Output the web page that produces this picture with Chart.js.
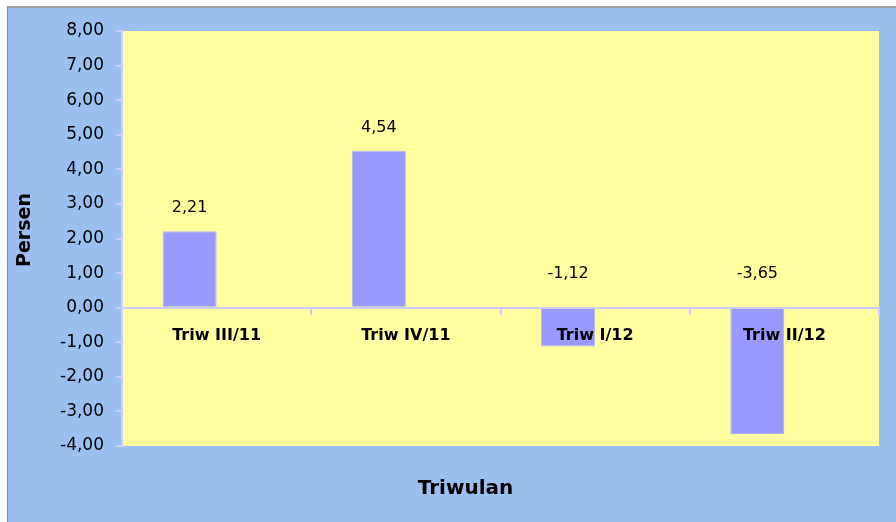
<!DOCTYPE html>
<html>
<head>
<meta charset="utf-8">
<script src="https://cdn.jsdelivr.net/npm/chart.js@4"></script>
<style>
  html, body { margin: 0; padding: 0; background: #fff; overflow: hidden; }
  #wrap {
    position: absolute; left: 7px; top: 6px;
    border-left: 1px solid #8c8c8c; border-top: 2px solid #a0a0a0;
    background: #9bc0f0; width: 900px; height: 530px;
  }
  #chart { position: absolute; left: 0; top: 0; }
</style>
</head>
<body>
<div id="wrap"><canvas id="chart" width="888" height="514"></canvas></div>
<script>
// --- DATA ---
const categories = ['Triw III/11', 'Triw IV/11', 'Triw I/12', 'Triw II/12'];
const values = [2.21, 4.54, -1.12, -3.65];
const yTicks = [-4, -3, -2, -1, 0, 1, 2, 3, 4, 5, 6, 7, 8];
const yTitle = 'Persen';
const xTitle = 'Triwulan';

const fmt = v => v.toFixed(2).replace('.', ',');
Chart.defaults.font.family = "'DejaVu Sans'";
Chart.defaults.color = '#000';

// latar plot kuning + judul sumbu + label nilai
const decor = {
    id: 'decor',
    beforeDraw(chart) {
        const { ctx, chartArea: a } = chart;
        ctx.save();
        ctx.fillStyle = '#9bc0f0';
        ctx.fillRect(0, 0, chart.width, chart.height);
        ctx.fillStyle = '#ffffa0';
        ctx.fillRect(a.left, a.top, a.right - a.left, a.bottom - a.top);
        ctx.restore();
    },
    afterDraw(chart) {
        const { ctx, chartArea: a } = chart;
        const zero = chart.scales.y.getPixelForValue(0);
        ctx.save();
        ctx.fillStyle = '#000';
        ctx.textAlign = 'center';
        ctx.textBaseline = 'middle';
        ctx.font = "16px 'DejaVu Sans'";
        chart.getDatasetMeta(0).data.forEach((bar, i) => {
            const v = values[i];
            const y = v >= 0 ? bar.y - 23 : zero - 34;
            ctx.fillText(fmt(v), bar.x, y);
        });
        // judul sumbu x agak ke kiri seperti di Excel
        ctx.font = "bold 20px 'DejaVu Sans'";
        ctx.fillText(xTitle, (a.left + a.right) / 2 - 35, 481);
        ctx.translate(17, 222);
        ctx.rotate(-Math.PI / 2);
        ctx.font = "bold 19px 'DejaVu Sans'";
        ctx.fillText(yTitle, 0, 0);
        ctx.restore();
    }
};

new Chart(document.getElementById('chart'), {
    type: 'bar',
    data: {
        labels: categories,
        datasets: [
            { data: values, backgroundColor: '#9999ff', borderColor: '#b4b4fa', borderWidth: 1 },
            { data: categories.map(() => null), backgroundColor: 'transparent' }
        ]
    },
    options: {
        responsive: false,
        animation: false,
        devicePixelRatio: 1,
        categoryPercentage: 2 / 3.5,
        barPercentage: 1,
        layout: { padding: { top: 23, right: 17, bottom: 76, left: 0 } },
        plugins: { legend: { display: false }, tooltip: { enabled: false } },
        scales: {
            x: {
                position: { y: 0 },
                grid: { offset: true, drawOnChartArea: false, tickLength: 6, color: '#ccccff', lineWidth: 2 },
                border: { color: '#ccccff', width: 2, z: 1 },
                ticks: { font: { size: 16, weight: 'bold' }, color: '#000', padding: 13, maxRotation: 0, z: 1 }
            },
            y: {
                min: yTicks[0],
                max: yTicks[yTicks.length - 1],
                afterFit: s => { s.width = 114; },
                afterBuildTicks: s => { s.ticks = yTicks.map(v => ({ value: v })); },
                grid: { drawOnChartArea: false, tickLength: 6, color: '#ccccff', lineWidth: 2 },
                border: { color: '#ccccff', width: 2 },
                ticks: { font: { size: 17 }, color: '#000', padding: 12, callback: v => fmt(v) }
            }
        }
    },
    plugins: [decor]
});
</script>
</body>
</html>
